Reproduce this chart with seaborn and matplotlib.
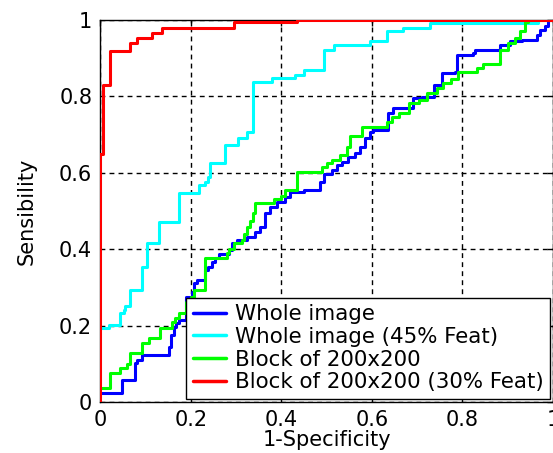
import numpy as np
import pandas as pd
import matplotlib
matplotlib.use("Agg")
import matplotlib.pyplot as plt
import seaborn as sns

labels = ["Whole image", "Whole image (45% Feat)", "Block of 200x200", "Block of 200x200 (30% Feat)"]
colors = ["#0000FF", "#00FFFF", "#00FF00", "#FF0000"]

blue_x = [0, 0.048, 0.077, 0.081, 0.092, 0.151, 0.155, 0.162, 0.166, 0.173, 0.188, 0.202, 0.206, 0.214,
          0.232, 0.238, 0.247, 0.254, 0.261, 0.283, 0.290, 0.302, 0.324, 0.342, 0.353, 0.364, 0.375, 0.390,
          0.408, 0.419, 0.449, 0.486, 0.493, 0.511, 0.523, 0.533, 0.548, 0.563, 0.574, 0.585, 0.596, 0.603,
          0.636, 0.647, 0.690, 0.710, 0.736, 0.754, 0.784, 0.787, 0.824, 0.828, 0.883, 0.905, 0.931, 0.964,
          0.971, 0.982, 0.990, 1.0]
blue_y = [0.024, 0.058, 0.101, 0.110, 0.123, 0.145, 0.175, 0.197, 0.206, 0.215, 0.276, 0.289, 0.311, 0.319,
          0.346, 0.354, 0.366, 0.376, 0.388, 0.398, 0.415, 0.424, 0.433, 0.446, 0.459, 0.494, 0.511, 0.524,
          0.537, 0.551, 0.555, 0.577, 0.598, 0.607, 0.620, 0.629, 0.642, 0.651, 0.668, 0.690, 0.708, 0.712,
          0.756, 0.769, 0.795, 0.799, 0.830, 0.860, 0.865, 0.908, 0.913, 0.921, 0.935, 0.944, 0.948, 0.961,
          0.974, 0.985, 1.0, 1.0]

cyan_x = [0, 0.018, 0.044, 0.051, 0.055, 0.066, 0.092, 0.103, 0.129, 0.173, 0.217, 0.232, 0.237, 0.243,
          0.276, 0.305, 0.324, 0.338, 0.379, 0.430, 0.450, 0.493, 0.515, 0.596, 0.633, 0.669, 0.728, 0.967, 1.0]
cyan_y = [0.193, 0.202, 0.232, 0.241, 0.250, 0.293, 0.354, 0.415, 0.472, 0.547, 0.568, 0.577, 0.590, 0.625,
          0.673, 0.690, 0.708, 0.838, 0.847, 0.856, 0.869, 0.921, 0.935, 0.944, 0.970, 0.978, 0.993, 1.0, 1.0]

green_x = [0, 0.022, 0.044, 0.059, 0.066, 0.092, 0.107, 0.132, 0.158, 0.165, 0.173, 0.188, 0.199, 0.206,
           0.232, 0.280, 0.285, 0.294, 0.313, 0.318, 0.324, 0.330, 0.338, 0.342, 0.383, 0.400, 0.408, 0.434,
           0.489, 0.500, 0.511, 0.530, 0.545, 0.552, 0.578, 0.633, 0.645, 0.659, 0.681, 0.703, 0.721, 0.743,
           0.758, 0.775, 0.791, 0.831, 0.846, 0.883, 0.901, 0.916, 0.927, 0.938, 0.945, 1.0]
green_y = [0.036, 0.075, 0.088, 0.100, 0.127, 0.154, 0.167, 0.193, 0.210, 0.219, 0.232, 0.263, 0.276, 0.293,
           0.376, 0.389, 0.400, 0.415, 0.424, 0.440, 0.459, 0.475, 0.494, 0.520, 0.531, 0.540, 0.555, 0.603,
           0.615, 0.625, 0.634, 0.647, 0.668, 0.695, 0.721, 0.734, 0.745, 0.756, 0.782, 0.790, 0.808, 0.821,
           0.834, 0.845, 0.865, 0.873, 0.886, 0.921, 0.939, 0.952, 0.970, 0.995, 1.0, 1.0]

red_x = [0, 0, 0.006, 0.022, 0.066, 0.081, 0.114, 0.136, 0.294, 0.435, 1.0]
red_y = [0, 0.65, 0.83, 0.92, 0.94, 0.953, 0.966, 0.98, 0.995, 1.0, 1.0]

xticks = [0, 0.2, 0.4, 0.6, 0.8, 1]
xticklabels = ["0", "0.2", "0.4", "0.6", "0.8", "1"]
yticks = [0, 0.2, 0.4, 0.6, 0.8, 1]
yticklabels = ["0", "0.2", "0.4", "0.6", "0.8", "1"]

series = [(blue_x, blue_y), (cyan_x, cyan_y), (green_x, green_y), (red_x, red_y)]
frames = []
for lab, (xs, ys) in zip(labels, series):
    frames.append(pd.DataFrame({"fpr": xs, "tpr": ys, "curve": lab}))
df = pd.concat(frames, ignore_index=True)

sns.set_style("white")
plt.rcParams["font.family"] = ["DejaVu Sans"]
plt.rcParams["font.size"] = 15
plt.rcParams["text.color"] = "black"
plt.rcParams["axes.labelcolor"] = "black"
plt.rcParams["xtick.color"] = "black"
plt.rcParams["ytick.color"] = "black"

fig = plt.figure(figsize=(5.53, 4.53), dpi=100)
ax = fig.add_axes([0.1817, 0.1126, 0.8183, 0.8433])

sns.lineplot(data=df, x="fpr", y="tpr", hue="curve", hue_order=labels,
             palette=colors, sort=False, estimator=None, units="curve",
             drawstyle="steps-post", linewidth=2.2, ax=ax, legend=True, zorder=3)

ax.set_xlim(0, 1)
ax.set_ylim(0, 1)
ax.set_xticks(xticks)
ax.set_xticklabels(xticklabels)
ax.set_yticks(yticks)
ax.set_yticklabels(yticklabels)
ax.set_axisbelow(True)
ax.grid(True, color="black", linestyle=(0, (3.5, 3)), linewidth=1.0)
ax.tick_params(direction="in", length=4, width=1, top=True, right=True,
               labelsize=15, color="black", labelcolor="black", pad=6)
for s in ax.spines.values():
    s.set_color("black")
    s.set_linewidth(1.0)
    s.set_zorder(2)

ax.set_xlabel("1-Specificity", fontsize=15, labelpad=0, color="black")
ax.set_ylabel("Sensibility", fontsize=15, labelpad=16, color="black")

handles, labs = ax.get_legend_handles_labels()
leg = ax.legend(handles, labs, loc="lower right", fontsize=15.4, frameon=True,
                fancybox=False, edgecolor="black", framealpha=1, borderaxespad=0.15,
                handlelength=1.55, handletextpad=0.4, labelspacing=0.13, borderpad=0.3)
leg.get_frame().set_linewidth(1.0)
leg.set_zorder(5)
for h in leg.get_lines():
    h.set_linewidth(2.5)

fig.savefig("out.png", dpi=100)
